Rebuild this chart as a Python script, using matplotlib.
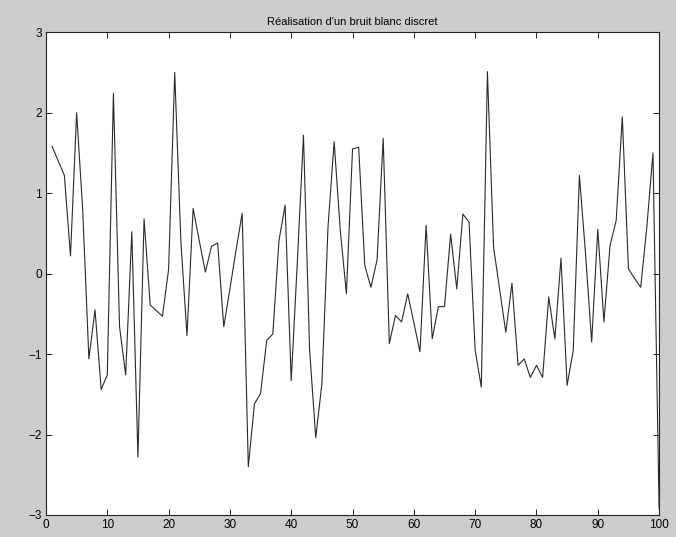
import numpy as np
import matplotlib
matplotlib.use("Agg")
import matplotlib.pyplot as plt

# one realisation of discrete white noise, samples 1..100
n = list(range(1, 101))
values = [
    1.58, 1.40, 1.22, 0.22, 2.00, 0.78, -1.06, -0.45, -1.44, -1.26,
    2.24, -0.66, -1.26, 0.52, -2.28, 0.68, -0.39, -0.46, -0.53, 0.05,
    2.50, 0.40, -0.77, 0.81, 0.41, 0.02, 0.34, 0.38, -0.66, -0.19,
    0.29, 0.75, -2.40, -1.62, -1.49, -0.83, -0.75, 0.41, 0.85, -1.33,
    0.15, 1.72, -0.95, -2.04, -1.37, 0.58, 1.64, 0.54, -0.25, 1.55,
    1.57, 0.10, -0.17, 0.17, 1.68, -0.87, -0.52, -0.60, -0.25, -0.61,
    -0.97, 0.60, -0.81, -0.41, -0.41, 0.49, -0.19, 0.74, 0.64, -0.95,
    -1.41, 2.51, 0.33, -0.20, -0.73, -0.12, -1.14, -1.06, -1.29, -1.14,
    -1.29, -0.29, -0.81, 0.19, -1.39, -0.95, 1.22, 0.25, -0.85, 0.55,
    -0.60, 0.35, 0.66, 1.95, 0.06, -0.06, -0.17, 0.58, 1.50, -2.92,
]
x_ticks = list(range(0, 101, 10))
y_ticks = [-3, -2, -1, 0, 1, 2, 3]
title = "Réalisation d'un bruit blanc discret"

plt.rcParams['font.family'] = ['Liberation Sans', 'DejaVu Sans']

fig = plt.figure(figsize=(6.76, 5.37), dpi=100)
fig.patch.set_facecolor('#cdcdcd')
ax = fig.add_axes([0.068, 0.041, 0.907, 0.899])
ax.set_facecolor('white')

ax.plot(n, values, color='#2a2a2a', linewidth=0.8)

ax.set_xlim(0, 100)
ax.set_ylim(-3, 3)
ax.set_xticks(x_ticks)
ax.set_yticks(y_ticks)
ax.tick_params(direction='in', top=True, right=True, length=4, width=0.6,
               labelsize=8.5, pad=3)
for s in ax.spines.values():
    s.set_linewidth(0.8)
    s.set_color('#222222')

ax.set_title(title, fontsize=8, pad=5)

fig.savefig('out.png', dpi=100, facecolor=fig.get_facecolor())
